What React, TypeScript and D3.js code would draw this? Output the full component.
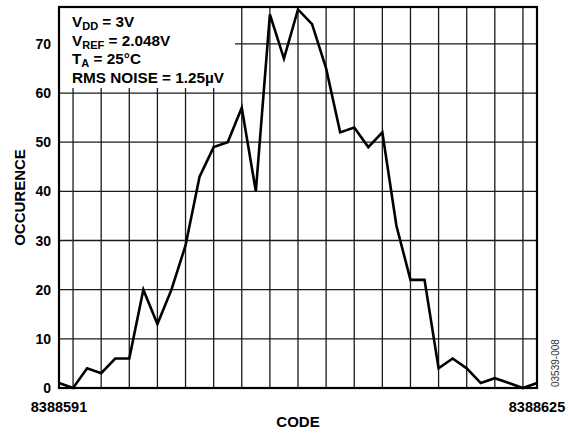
import { useEffect, useRef } from 'react';
import * as d3 from 'd3';

// histogram of output codes, one count per code
const firstCode = 8388591;
const lastCode = 8388625;
const counts = [
  1, 0, 4, 3, 6, 6, 20, 13, 20, 29,
  43, 49, 50, 57, 40, 76, 67, 77, 74, 65,
  52, 53, 49, 52, 33, 22, 22, 4, 6, 4,
  1, 2, 1, 0, 1,
];
const yTicks = [0, 10, 20, 30, 40, 50, 60, 70];
const xGridCodes = d3.range(firstCode + 1, lastCode, 2);

const notes = [
  { main: 'V', sub: 'DD', rest: ' = 3V' },
  { main: 'V', sub: 'REF', rest: ' = 2.048V' },
  { main: 'T', sub: 'A', rest: ' = 25°C' },
  { main: 'RMS NOISE = 1.25µV', sub: '', rest: '' },
];

const W = 568;
const H = 435;
const margin = { top: 7, right: 31, bottom: 47, left: 59 };
const font = 'Arial, "Liberation Sans", Helvetica, sans-serif';

export default function App() {
  const svgRef = useRef<SVGSVGElement>(null);

  useEffect(() => {
    if (!svgRef.current) return;
    const svg = d3.select(svgRef.current);
    svg.selectAll('*').remove();

    const x0 = margin.left;
    const x1 = W - margin.right;
    const y0 = H - margin.bottom;
    const y1 = margin.top;

    const x = d3.scaleLinear().domain([firstCode, lastCode]).range([x0, x1]);
    const y = d3.scaleLinear().domain([0, 77.5]).range([y0, y1]);

    const g = svg.append('g');

    // grid
    g.selectAll('line.hgrid')
      .data(yTicks.filter(t => t > 0))
      .enter()
      .append('line')
      .attr('x1', x0).attr('x2', x1)
      .attr('y1', d => y(d)).attr('y2', d => y(d))
      .attr('stroke', '#1a1a1a')
      .attr('stroke-width', 1.3);

    g.selectAll('line.vgrid')
      .data(xGridCodes)
      .enter()
      .append('line')
      .attr('x1', d => x(d)).attr('x2', d => x(d))
      .attr('y1', y0).attr('y2', y1)
      .attr('stroke', '#1a1a1a')
      .attr('stroke-width', 1.3);

    // white box behind the notes
    g.append('rect')
      .attr('x', x0)
      .attr('y', y1)
      .attr('width', 176)
      .attr('height', 81)
      .attr('fill', '#fff');

    // data line
    const line = d3.line<number>()
      .x((_, i) => x(firstCode + i))
      .y(d => y(d));

    g.append('path')
      .datum(counts)
      .attr('d', line)
      .attr('fill', 'none')
      .attr('stroke', '#000')
      .attr('stroke-width', 2.6)
      .attr('stroke-linejoin', 'miter');

    // frame
    g.append('rect')
      .attr('x', x0).attr('y', y1)
      .attr('width', x1 - x0).attr('height', y0 - y1)
      .attr('fill', 'none')
      .attr('stroke', '#000')
      .attr('stroke-width', 2.2);

    // y tick labels
    g.selectAll('text.ytick')
      .data(yTicks)
      .enter()
      .append('text')
      .attr('x', x0 - 8)
      .attr('y', d => y(d))
      .attr('dy', '0.36em')
      .attr('text-anchor', 'end')
      .attr('font-family', font)
      .attr('font-weight', 'bold')
      .attr('font-size', 14)
      .text(d => d);

    // x end labels
    [firstCode, lastCode].forEach(c => {
      g.append('text')
        .attr('x', x(c))
        .attr('y', y0 + 24)
        .attr('text-anchor', 'middle')
        .attr('font-family', font)
        .attr('font-weight', 'bold')
        .attr('font-size', 14.5)
        .text(c);
    });

    g.append('text')
      .attr('x', (x0 + x1) / 2)
      .attr('y', y0 + 39)
      .attr('text-anchor', 'middle')
      .attr('font-family', font)
      .attr('font-weight', 'bold')
      .attr('font-size', 15)
      .text('CODE');

    g.append('text')
      .attr('transform', `translate(24.5,${(y0 + y1) / 2}) rotate(-90)`)
      .attr('text-anchor', 'middle')
      .attr('font-family', font)
      .attr('font-weight', 'bold')
      .attr('font-size', 15)
      .text('OCCURENCE');

    g.append('text')
      .attr('transform', `translate(558.5,${y0 - 1}) rotate(-90)`)
      .attr('text-anchor', 'start')
      .attr('font-family', font)
      .attr('font-size', 10)
      .attr('fill', '#333')
      .text('03539-008');

    // notes
    notes.forEach((n, i) => {
      const t = g.append('text')
        .attr('x', 72)
        .attr('y', 27 + i * 18.6)
        .attr('font-family', font)
        .attr('font-weight', 'bold')
        .attr('font-size', 15.3);
      t.append('tspan').text(n.main);
      if (n.sub) {
        t.append('tspan').attr('dy', 3).attr('font-size', 11).text(n.sub);
        t.append('tspan').attr('dy', -3).text(n.rest);
      }
    });
  }, []);

  return (
    <svg
      ref={svgRef}
      width={W}
      height={H}
      style={{ position: 'absolute', left: 0, top: 0, background: '#fff' }}
    />
  );
}
